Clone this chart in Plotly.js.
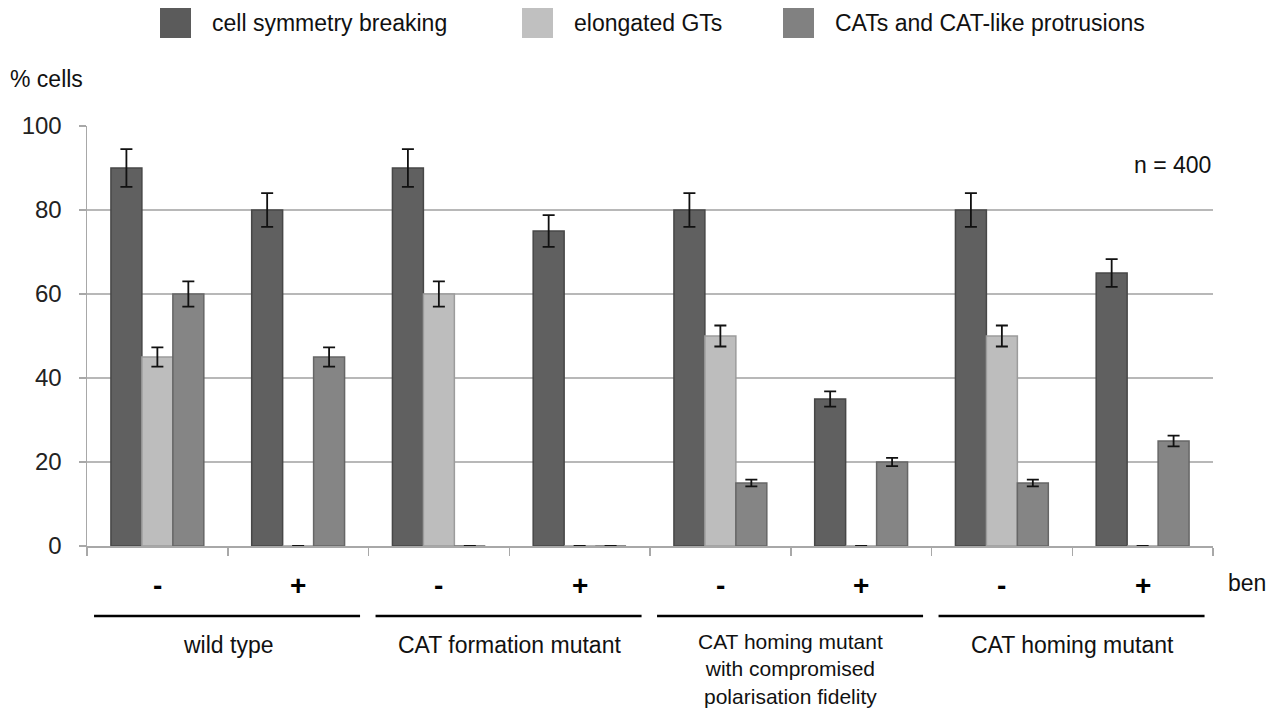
<!DOCTYPE html>
<html>
<head>
<meta charset="utf-8">
<script src="https://cdn.plot.ly/plotly-3.0.1.min.js"></script>
<style>html,body{margin:0;padding:0;background:#fff;}#chart{width:1278px;height:713px;}</style>
</head>
<body>
<div id="chart"></div>
<script>
// ---- data ----
const categories = ["wt -", "wt +", "form -", "form +", "homcf -", "homcf +", "hom -", "hom +"];
const benLabels = ["-", "+", "-", "+", "-", "+", "-", "+"];
const groupLabels = ["wild type", "CAT formation mutant", "CAT homing mutant<br>with compromised<br>polarisation fidelity", "CAT homing mutant"];
const seriesNames = ["cell symmetry breaking", "elongated GTs", "CATs and CAT-like protrusions"];
const symmetryBreaking = [90, 80, 90, 75, 80, 35, 80, 65];
const symmetryErr = [4.5, 4, 4.5, 3.8, 4, 1.8, 4, 3.3];
const elongatedGTs = [45, 0, 60, 0, 50, 0, 50, 0];
const elongatedErr = [2.3, 0, 3, 0, 2.5, 0, 2.5, 0];
const catProtrusions = [60, 45, 0, 0, 15, 20, 15, 25];
const catErr = [3, 2.3, 0, 0, 0.8, 1, 0.8, 1.3];
const yTicks = [0, 20, 40, 60, 80, 100];

// ---- style ----
const FONT = "Liberation Sans, Arial, sans-serif";
const fills = ["#606060", "#bdbdbd", "#858585"];
const edges = ["#474747", "#9c9c9c", "#666666"];
const legendFills = ["#5b5b5b", "#c0c0c0", "#818181"];
const vals = [symmetryBreaking, elongatedGTs, catProtrusions];
const errs = [symmetryErr, elongatedErr, catErr];

// plot area in pixels
const L = 87, R = 1213, T = 126, B = 546;
const px = x => (x - L) / (R - L);
const py = y => (B - y) / (B - T);

const traces = vals.map((v, i) => ({
  type: "bar",
  name: seriesNames[i],
  x: categories,
  y: v,
  marker: {color: fills[i], line: {color: edges[i], width: 1.5}},
  error_y: {type: "data", array: errs[i], visible: true, color: "#111", thickness: 1.8, width: 6},
  showlegend: false,
  hoverinfo: "y"
}));

const annotations = [];
const shapes = [];
categories.forEach((c, i) => {
  annotations.push({x: c, xref: "x", y: py(585), yref: "paper", text: "<b>" + benLabels[i] + "</b>", showarrow: false,
    font: {size: 28, color: "#000"}, xanchor: "center", yanchor: "middle"});
});
groupLabels.forEach((g, k) => {
  const multi = g.indexOf("<br>") >= 0;
  annotations.push({x: 2 * k + 0.5, xref: "x", y: multi ? py(628) : py(645), yref: "paper", text: g, showarrow: false,
    font: {size: multi ? 21 : 23, color: "#111"}, xanchor: "center", yanchor: multi ? "top" : "middle", align: "center"});
  shapes.push({type: "line", xref: "x", yref: "paper", x0: 2 * k - 0.45, x1: 2 * k + 1.44,
    y0: py(616), y1: py(616), line: {color: "#000", width: 2.5}});
});
// custom legend (layout decoration)
const legendLeft = [160, 522, 783];
seriesNames.forEach((n, i) => {
  shapes.push({type: "rect", xref: "paper", yref: "paper", x0: px(legendLeft[i]), x1: px(legendLeft[i] + 31),
    y0: py(38), y1: py(8), fillcolor: legendFills[i], line: {width: 0}});
  annotations.push({x: px(legendLeft[i] + 50), xref: "paper", y: py(23), yref: "paper", text: n, showarrow: false,
    font: {size: 23, color: "#111"}, xanchor: "left", yanchor: "middle"});
});
annotations.push({x: px(8), xref: "paper", y: py(79), yref: "paper", text: "% cells", showarrow: false,
  font: {size: 23, color: "#111"}, xanchor: "left", yanchor: "middle"});
annotations.push({x: 1.0, xref: "paper", y: py(165), yref: "paper", text: "n = 400", showarrow: false,
  font: {size: 23, color: "#111"}, xanchor: "right", yanchor: "middle"});
annotations.push({x: px(1226), xref: "paper", y: py(583), yref: "paper", text: "ben", showarrow: false,
  font: {size: 23, color: "#111"}, xanchor: "left", yanchor: "middle"});

const layout = {
  width: 1278, height: 713,
  margin: {l: L, r: 1278 - R, t: T, b: 713 - B, pad: 0},
  paper_bgcolor: "#fff", plot_bgcolor: "#fff",
  font: {family: FONT, size: 23, color: "#111"},
  barmode: "group", bargap: 0.34, bargroupgap: 0,
  showlegend: false,
  xaxis: {type: "category", showticklabels: false, ticks: "outside", tickson: "boundaries", ticklen: 8,
    tickcolor: "#a8a8a8", tickwidth: 1.5, showline: true, linecolor: "#a8a8a8", linewidth: 1.5,
    showgrid: false, zeroline: false, range: [-0.5, 7.5]},
  yaxis: {range: [0, 100], tickvals: yTicks, ticks: "outside", ticklen: 7, tickcolor: "#a8a8a8", tickwidth: 1.5,
    showline: true, linecolor: "#a8a8a8", linewidth: 1.5, gridcolor: "#b8b8b8", gridwidth: 1.5,
    zeroline: false, tickfont: {size: 24, color: "#222"}, ticklabelstandoff: 12},
  annotations: annotations,
  shapes: shapes
};

Plotly.newPlot("chart", traces, layout, {displayModeBar: false, staticPlot: true});
</script>
</body>
</html>
